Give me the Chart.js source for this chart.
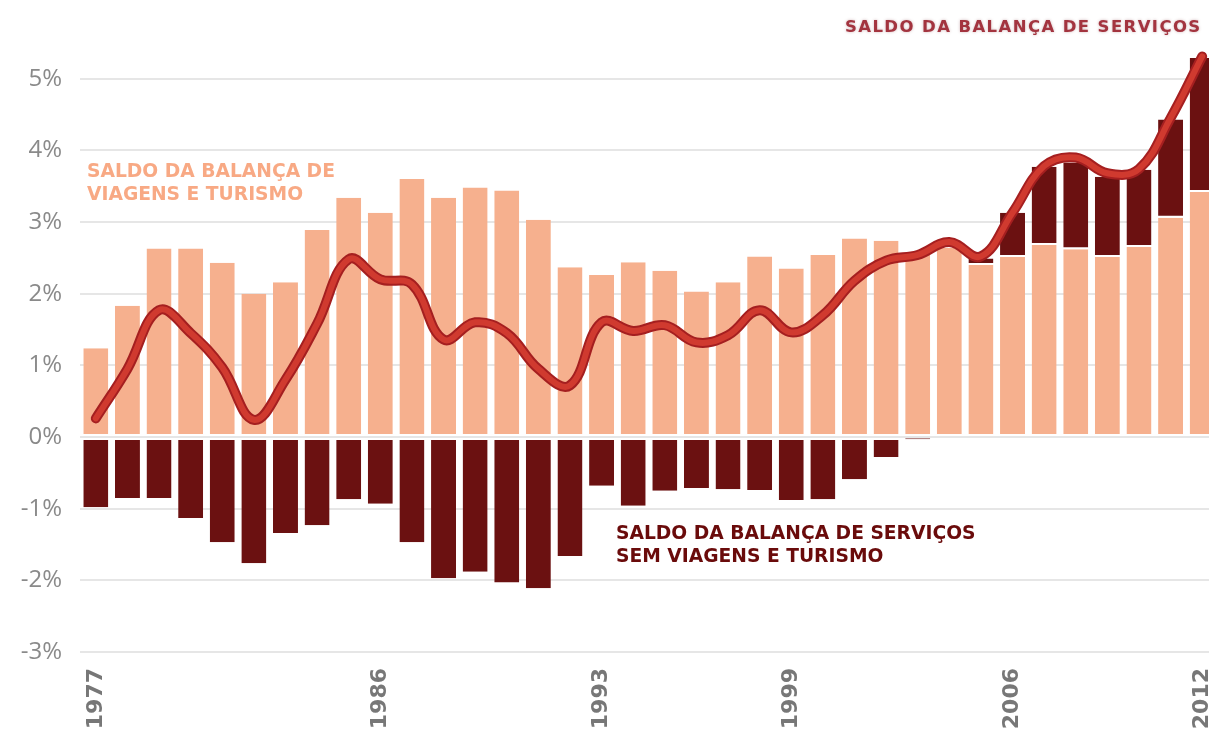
<!DOCTYPE html>
<html>
<head>
<meta charset="utf-8">
<script src="https://cdn.jsdelivr.net/npm/chart.js@4.4.1/dist/chart.umd.min.js"></script>
<style>
  html, body { margin: 0; padding: 0; background: #fff; overflow: hidden; }
  #grafico { display: block; }
</style>
</head>
<body>
<canvas id="grafico" width="1218" height="731"></canvas>
<script>
// ===== dados (% do PIB) =====
const anos = ['1977','1978','1979','1980','1981','1982','1983','1984','1985','1986',
              '1987','1988','1989','1990','1991','1992','1993','1994','1995','1996',
              '1997','1998','1999','2000','2001','2002','2003','2004','2005','2006',
              '2007','2008','2009','2010','2011','2012'];

const anosVisiveis = ['1977','1986','1993','1999','2006','2012'];

// saldo da balança de viagens e turismo
const viagens = [1.24, 1.83, 2.63, 2.63, 2.43, 2.00, 2.16, 2.89, 3.34, 3.13,
                 3.60, 3.34, 3.48, 3.44, 3.03, 2.37, 2.26, 2.44, 2.32, 2.03,
                 2.16, 2.52, 2.35, 2.54, 2.77, 2.74, 2.56, 2.64, 2.40, 2.51,
                 2.68, 2.62, 2.51, 2.65, 3.06, 3.42];

// saldo da balança de serviços sem viagens e turismo
const semViagens = [-0.98, -0.85, -0.85, -1.13, -1.47, -1.76, -1.34, -1.23, -0.87, -0.93,
                    -1.47, -1.97, -1.88, -2.03, -2.11, -1.66, -0.68, -0.96, -0.75, -0.71,
                    -0.73, -0.74, -0.88, -0.87, -0.59, -0.28, -0.03, 0.00, 0.09, 0.62,
                    1.09, 1.21, 1.12, 1.08, 1.37, 1.87];

// saldo da balança de serviços (total)
const servicos = [0.26, 0.95, 1.77, 1.45, 0.97, 0.24, 0.80, 1.58, 2.48, 2.20,
                  2.13, 1.36, 1.60, 1.45, 0.95, 0.72, 1.60, 1.48, 1.56, 1.32,
                  1.42, 1.77, 1.46, 1.70, 2.18, 2.46, 2.54, 2.72, 2.52, 3.13,
                  3.78, 3.90, 3.68, 3.74, 4.45, 5.31];

const yTicks = [-3, -2, -1, 0, 1, 2, 3, 4, 5];

const SALMAO = '#f6b08e';
const BORDO  = '#6b1111';
const VERMELHO = '#d03a2f';
const VERMELHO_ESC = '#a51f20';

// rótulos escritos sobre o gráfico
const rotulos = {
  id: 'rotulos',
  afterDraw(chart) {
    const ctx = chart.ctx;
    ctx.save();
    ctx.textBaseline = 'alphabetic';
    ctx.textAlign = 'left';
    ctx.font = 'bold 18.7px "DejaVu Sans"';

    ctx.fillStyle = '#f8a984';
    ctx.fillText('SALDO DA BALANÇA DE', 87, 177);
    ctx.fillText('VIAGENS E TURISMO', 87, 200);

    ctx.fillStyle = '#6a0b0b';
    ctx.fillText('SALDO DA BALANÇA DE SERVIÇOS', 616, 539);
    ctx.fillText('SEM VIAGENS E TURISMO', 616, 562);

    ctx.font = 'bold 16.5px "DejaVu Sans"';
    ctx.letterSpacing = '1.4px';
    ctx.shadowColor = 'rgba(120,40,50,0.35)';
    ctx.shadowBlur = 3;
    ctx.fillStyle = '#a3343f';
    ctx.fillText('SALDO DA BALANÇA DE SERVIÇOS', 845, 32);
    ctx.restore();
  }
};

const linhaBase = {
  type: 'line',
  data: servicos,
  pointRadius: 0,
  pointHoverRadius: 0,
  tension: 0.4,
  fill: false,
  borderCapStyle: 'round',
  borderJoinStyle: 'round'
};

new Chart(document.getElementById('grafico'), {
  type: 'bar',
  data: {
    labels: anos,
    datasets: [
      { ...linhaBase, label: 'Saldo da balança de serviços', borderColor: VERMELHO,
        borderWidth: 6, stack: 'l1', order: 0 },
      { ...linhaBase, label: 'contorno', borderColor: VERMELHO_ESC,
        borderWidth: 10, stack: 'l2', order: 1 },
      {
        label: 'Saldo da balança de viagens e turismo',
        data: viagens,
        backgroundColor: SALMAO,
        borderColor: 'rgba(0,0,0,0)',
        borderWidth: { top: 0, left: 0, right: 0, bottom: 2 },
        borderSkipped: false,
        stack: 'b', order: 2
      },
      {
        label: 'Saldo da balança de serviços sem viagens e turismo',
        data: semViagens,
        backgroundColor: BORDO,
        borderColor: 'rgba(0,0,0,0)',
        borderWidth: c => c.raw < 0 ? { top: 2, left: 0, right: 0, bottom: 0 }
                                    : { top: 0, left: 0, right: 0, bottom: 2 },
        borderSkipped: false,
        stack: 'b', order: 3
      }
    ]
  },
  options: {
    responsive: false,
    animation: false,
    events: [],
    datasets: { bar: { categoryPercentage: 1, barPercentage: 0.79 } },
    layout: { padding: { top: 7, left: 0, right: 0, bottom: 0 } },
    plugins: { legend: { display: false }, tooltip: { enabled: false } },
    scales: {
      x: {
        stacked: true,
        grid: { display: false, drawTicks: false },
        border: { display: false },
        ticks: {
          autoSkip: false,
          minRotation: 90,
          maxRotation: 90,
          padding: 16,
          color: '#777777',
          font: { family: 'DejaVu Sans', weight: 'bold', size: 22 },
          callback: (v, i) => anosVisiveis.includes(anos[i]) ? anos[i] : ''
        },
        afterFit: s => { s.height = 79; s.paddingLeft = 0; s.paddingRight = 0; }
      },
      y: {
        stacked: true,
        min: -3,
        max: 6,
        afterBuildTicks: s => { s.ticks = yTicks.concat([6]).map(v => ({ value: v })); },
        grid: {
          drawTicks: false,
          lineWidth: 2,
          color: c => c.tick && c.tick.value === 6 ? 'rgba(0,0,0,0)' : '#e6e6e6'
        },
        border: { display: false },
        ticks: {
          padding: 18,
          color: '#8a8a8a',
          font: { family: 'Open Sans', size: 24 },
          callback: v => v === 6 ? '' : v + '%'
        },
        afterFit: s => { s.width = 80; s.paddingTop = 0; s.paddingBottom = 0; }
      }
    }
  },
  plugins: [rotulos]
});
</script>
</body>
</html>
